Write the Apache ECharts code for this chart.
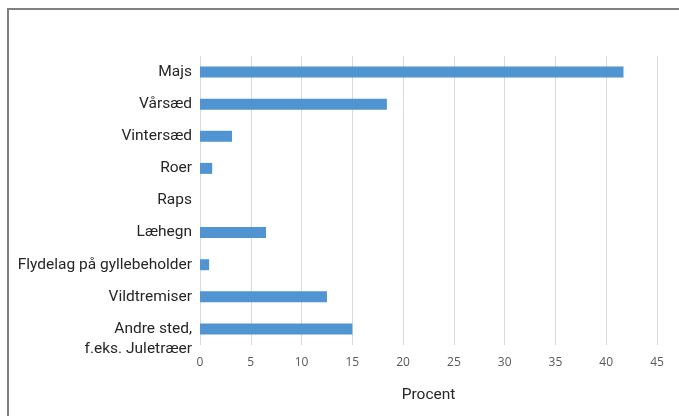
<!DOCTYPE html>
<html>
<head>
<meta charset="utf-8">
<script src="https://cdn.jsdelivr.net/npm/echarts@6/dist/echarts.min.js"></script>
<style>html,body{margin:0;padding:0;background:#fff;}#c{width:679px;height:416px;}</style>
</head>
<body>
<div id="c"></div>
<script>
var categories = ['Majs', 'Vårsæd', 'Vintersæd', 'Roer', 'Raps', 'Læhegn', 'Flydelag på gyllebeholder', 'Vildtremiser', 'Andre sted,\nf.eks. Juletræer'];
var values = [41.7, 18.4, 3.15, 1.2, 0, 6.5, 0.9, 12.5, 15.0];
var xTicks = [0, 5, 10, 15, 20, 25, 30, 35, 40, 45];

var chart = echarts.init(document.getElementById('c'), null, {renderer: 'canvas'});
chart.setOption({
  animation: false,
  backgroundColor: '#ffffff',
  graphic: [{
    type: 'rect',
    shape: {x: 8, y: 9, width: 700, height: 440},
    style: {fill: 'none', stroke: '#808080', lineWidth: 2},
    silent: true
  }],
  grid: {left: 200, right: 22, top: 56, bottom: 71, containLabel: false},
  xAxis: {
    type: 'value',
    min: xTicks[0],
    max: xTicks[xTicks.length - 1],
    interval: 5,
    name: 'Procent',
    nameLocation: 'middle',
    nameGap: 42,
    nameTextStyle: {fontFamily: 'Roboto', fontSize: 15.5, color: '#262626'},
    axisLine: {show: false},
    axisTick: {show: false},
    axisLabel: {margin: 12, fontFamily: 'Open Sans', fontSize: 12, color: '#595959'},
    splitLine: {show: true, lineStyle: {color: '#d9d9d9', width: 1}}
  },
  yAxis: {
    type: 'category',
    inverse: true,
    data: categories,
    axisLine: {show: false},
    axisTick: {show: false},
    axisLabel: {
      interval: 0,
      margin: 8,
      fontFamily: 'Roboto',
      fontSize: 15.5,
      color: '#262626',
      lineHeight: 20,
      formatter: function (v) { return v.indexOf('\n') >= 0 ? '\n' + v : v; }
    }
  },
  series: [{
    type: 'bar',
    data: values,
    barWidth: 11,
    itemStyle: {color: '#5094D1'}
  }]
});
</script>
</body>
</html>
